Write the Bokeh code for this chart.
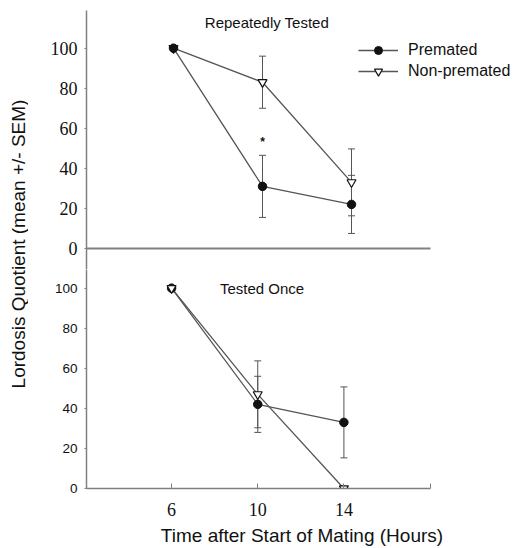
import math
from bokeh.plotting import figure
from bokeh.models import (ColumnDataSource, Whisker, TeeHead, Label, Legend, LegendItem,
                          Range1d, FixedTicker)
from bokeh.layouts import row, column
from bokeh.embed import file_html
from bokeh.resources import INLINE

# ---------------- data ----------------
hours = [6, 10, 14]
top_premated = [100, 31, 22]
top_premated_sem = [0, 15.5, 14.5]
top_nonpremated = [100, 83, 33]
top_nonpremated_sem = [0, 13, 16.7]

bot_premated = [100, 42, 33]
bot_premated_sem = [0, 14, 17.7]
bot_nonpremated = [100, 47, 0]
bot_nonpremated_sem = [0, 16.7, 0]

y_ticks = [0, 20, 40, 60, 80, 100]
x_ticks = [6, 10, 14, 18]
x_tick_labels = {6: "6", 10: "10", 14: "14", 18: ""}

# axis extents and view windows
top_x_axis_bounds = (2.09, 17.55)
top_x_view = (2.09, 21.46)
top_y_view = (-10.5, 118.8)
bot_x_axis_bounds = (2.05, 18.02)
bot_x_view = (2.05, 22.06)
bot_y_view = (0, 109.3)

LINE = "#555555"
AXIS = "#808080"
SANS = "Liberation Sans"
SERIF = "Liberation Serif"


def err_source(x, y, e):
    xs, up, lo = [], [], []
    for xi, yi, ei in zip(x, y, e):
        if ei > 0:
            xs.append(xi); up.append(yi + ei); lo.append(yi - ei)
    return ColumnDataSource(dict(x=xs, upper=up, lower=lo))


def add_whisker(p, src):
    w = Whisker(base="x", upper="upper", lower="lower", source=src, dimension="height",
                line_color=LINE, line_width=1,
                upper_head=TeeHead(size=7, line_color=LINE, line_width=1),
                lower_head=TeeHead(size=7, line_color=LINE, line_width=1))
    p.add_layout(w)


def style(p):
    p.outline_line_color = None
    p.xgrid.visible = False
    p.ygrid.visible = False
    p.background_fill_color = "white"
    p.border_fill_color = "white"


# ---------------- top panel ----------------
p_top = figure(width=489, height=269, output_backend="svg", toolbar_location=None,
               x_range=Range1d(*top_x_view), y_range=Range1d(*top_y_view),
               min_border_left=58, min_border_right=0, min_border_top=10, min_border_bottom=0)
style(p_top)
ya = p_top.yaxis[0]
ya.ticker = FixedTicker(ticks=y_ticks)
ya.axis_line_color = AXIS
ya.axis_line_width = 1.5
ya.major_tick_in = 0
ya.major_tick_out = 2
ya.major_tick_line_color = AXIS
ya.minor_tick_line_color = None
ya.major_label_text_font = SERIF
ya.major_label_text_font_size = "18px"
ya.major_label_text_color = "#111111"
ya.major_label_standoff = 7

xa = p_top.xaxis[0]
xa.fixed_location = 0
xa.bounds = top_x_axis_bounds
xa.ticker = FixedTicker(ticks=[])
xa.major_tick_in = 0
xa.major_tick_out = 0
xa.minor_tick_line_color = None
xa.major_label_text_font_size = "0px"
xa.major_label_standoff = 0
xa.axis_line_color = AXIS
xa.axis_line_width = 2

add_whisker(p_top, err_source(hours, top_nonpremated, top_nonpremated_sem))
add_whisker(p_top, err_source(hours, top_premated, top_premated_sem))

ln_n = p_top.line(hours, top_nonpremated, line_color=LINE, line_width=1.3)
mk_n = p_top.scatter(hours, top_nonpremated, marker="inverted_triangle", size=9,
                     fill_color="white", line_color="#111111", line_width=1.2)
ln_p = p_top.line(hours, top_premated, line_color=LINE, line_width=1.3)
mk_p = p_top.scatter(hours, top_premated, marker="circle", size=8.5,
                     fill_color="#111111", line_color="#111111")

p_top.add_layout(Label(x=10, y=53, text="*", text_font=SANS, text_font_size="12px",
                       text_font_style="bold", text_align="center", text_baseline="middle",
                       text_color="#111111"))
p_top.add_layout(Label(x=10.2, y=113, text="Repeatedly Tested", text_font=SANS,
                       text_font_size="15px", text_align="center", text_baseline="middle",
                       text_color="#111111"))

legend = Legend(items=[LegendItem(label="Premated", renderers=[ln_p, mk_p]),
                       LegendItem(label="Non-premated", renderers=[ln_n, mk_n])],
                location=(272, 188), glyph_width=40, glyph_height=20, label_height=20,
                spacing=1, padding=0, margin=0, label_standoff=10,
                label_text_font=SANS, label_text_font_size="16px", label_text_color="#111111",
                border_line_color=None, background_fill_alpha=0)
p_top.add_layout(legend)

# ---------------- bottom panel ----------------
p_bot = figure(width=489, height=279, output_backend="svg", toolbar_location=None,
               x_range=Range1d(*bot_x_view), y_range=Range1d(*bot_y_view),
               min_border_left=58, min_border_right=0, min_border_top=0, min_border_bottom=59)
style(p_bot)
yb = p_bot.yaxis[0]
yb.ticker = FixedTicker(ticks=y_ticks)
yb.axis_line_color = AXIS
yb.axis_line_width = 1.5
yb.major_tick_in = 0
yb.major_tick_out = 2
yb.major_tick_line_color = AXIS
yb.minor_tick_line_color = None
yb.major_label_text_font = SANS
yb.major_label_text_font_size = "13.5px"
yb.major_label_text_color = "#111111"
yb.major_label_standoff = 7

xb = p_bot.xaxis[0]
xb.bounds = bot_x_axis_bounds
xb.ticker = FixedTicker(ticks=x_ticks)
xb.major_label_overrides = x_tick_labels
xb.axis_line_color = AXIS
xb.axis_line_width = 1.5
xb.major_tick_in = 5
xb.major_tick_out = 0
xb.major_tick_line_color = AXIS
xb.minor_tick_line_color = None
xb.major_label_text_font = SERIF
xb.major_label_text_font_size = "18px"
xb.major_label_text_color = "#111111"
xb.major_label_standoff = 14
xb.axis_label = "Time after Start of Mating (Hours)"
xb.axis_label_text_font = SANS
xb.axis_label_text_font_size = "19px"
xb.axis_label_text_font_style = "normal"
xb.axis_label_text_color = "#111111"
xb.axis_label_standoff = 6

add_whisker(p_bot, err_source(hours, bot_premated, bot_premated_sem))
add_whisker(p_bot, err_source(hours, bot_nonpremated, bot_nonpremated_sem))

p_bot.line(hours, bot_premated, line_color=LINE, line_width=1.3)
p_bot.line(hours, bot_nonpremated, line_color=LINE, line_width=1.3)
p_bot.scatter(hours, bot_premated, marker="circle", size=8.5,
              fill_color="#111111", line_color="#111111")
p_bot.scatter(hours, bot_nonpremated, marker="inverted_triangle", size=9,
              fill_color="white", line_color="#111111", line_width=1.2)

p_bot.add_layout(Label(x=10.2, y=100, text="Tested Once", text_font=SANS,
                       text_font_size="15px", text_align="center", text_baseline="middle",
                       text_color="#111111"))

# ---------------- shared y label ----------------
p_lab = figure(width=28, height=548, output_backend="svg", toolbar_location=None,
               x_range=Range1d(0, 28), y_range=Range1d(0, 548),
               x_axis_location=None, y_axis_location=None,
               min_border=0, min_border_left=0, min_border_right=0,
               min_border_top=0, min_border_bottom=0)
style(p_lab)
p_lab.add_layout(Label(x=17.5, y=304.5, text="Lordosis Quotient (mean +/- SEM)",
                       angle=math.pi / 2, text_font=SANS, text_font_size="19px",
                       text_align="center", text_baseline="middle", text_color="#111111"))

layout = row(p_lab, column(p_top, p_bot))
open("out.html", "w").write(file_html(layout, INLINE))
